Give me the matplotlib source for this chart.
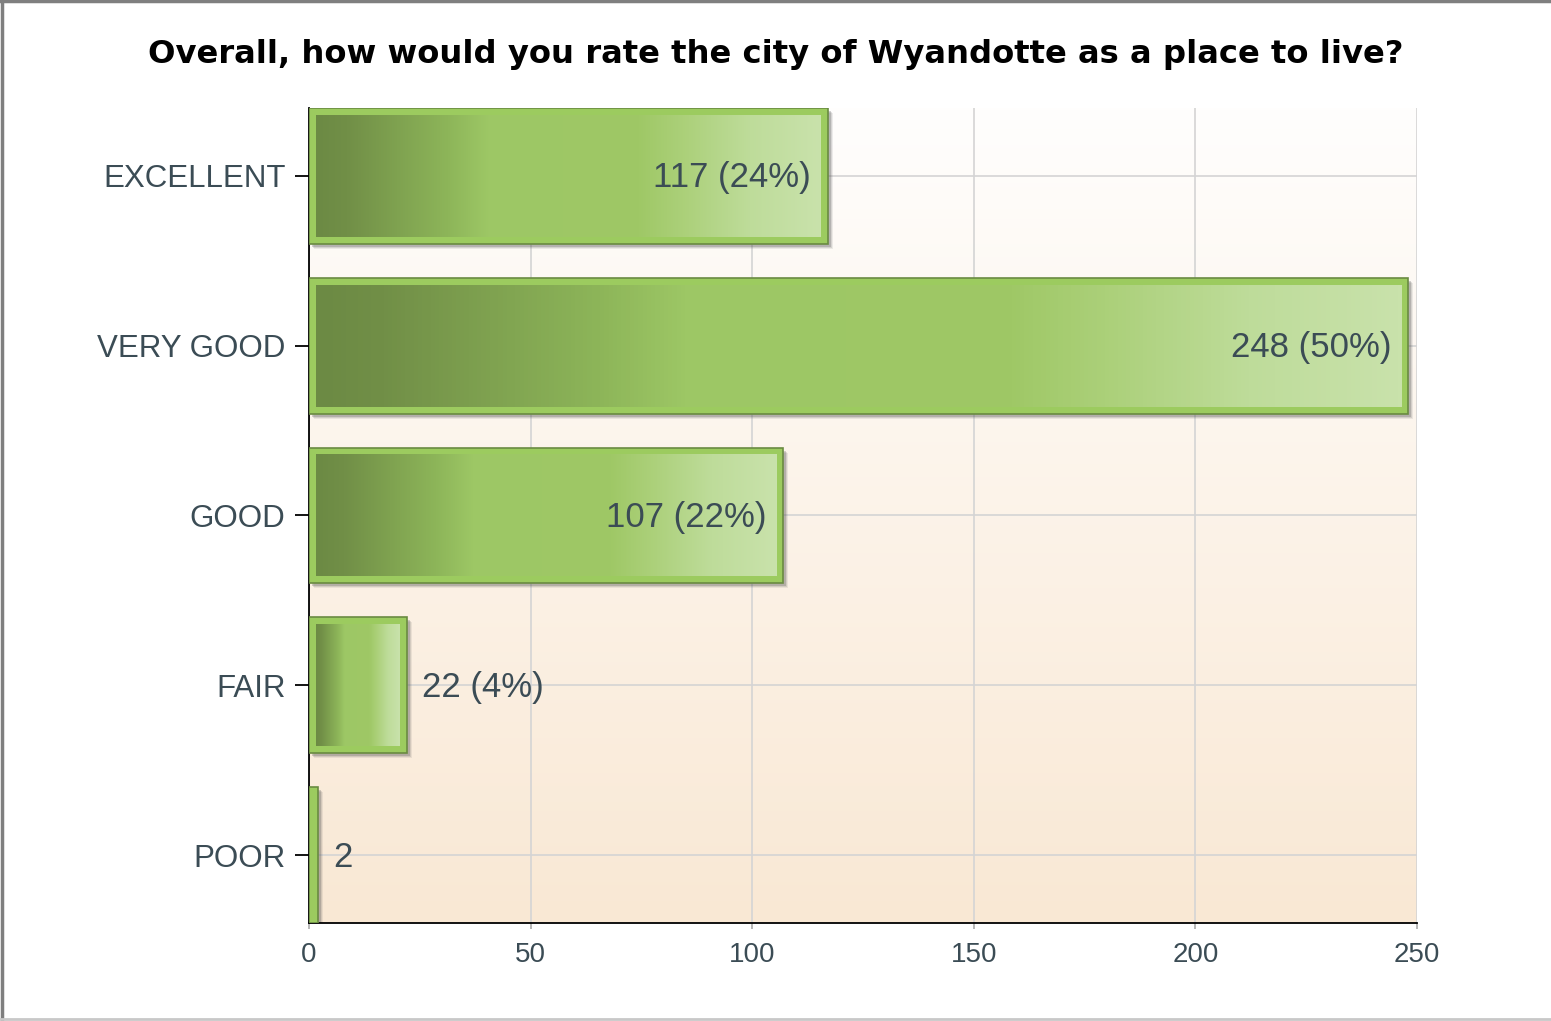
import matplotlib.pyplot as plt
import matplotlib.transforms as mtransforms
from matplotlib.colors import LinearSegmentedColormap
from matplotlib.patches import Rectangle
from matplotlib.lines import Line2D
import numpy as np

# survey answers
categories = ["EXCELLENT", "VERY GOOD", "GOOD", "FAIR", "POOR"]
counts = [117, 248, 107, 22, 2]
value_labels = ["117 (24%)", "248 (50%)", "107 (22%)", "22 (4%)", "2"]
x_ticks = [0, 50, 100, 150, 200, 250]

title = "Overall, how would you rate the city of Wyandotte as a place to live?"

plt.rcParams['font.family'] = ['Liberation Sans', 'DejaVu Sans']
text_col = "#3b4c55"

fig = plt.figure(figsize=(15.51, 10.21), dpi=100)
ax = fig.add_axes([309 / 1551, 98 / 1021, 1108 / 1551, 815 / 1021])

# peach gradient behind plot area
bg = LinearSegmentedColormap.from_list("bg", ["#f9e8d4", "#fffefd"])
ax.imshow(np.linspace(0, 1, 256).reshape(-1, 1)[::-1], cmap=bg, aspect="auto",
          extent=[0, 1, 0, 1], transform=ax.transAxes, zorder=0)

bar_cmap = LinearSegmentedColormap.from_list("bar", [
    (0.0, "#6c8a44"), (0.06, "#718f47"), (0.16, "#7fa250"), (0.26, "#8db559"),
    (0.34, "#9dc765"), (0.64, "#9fc866"), (0.74, "#add17c"), (0.86, "#bedc9a"),
    (1.0, "#c9e2ab")])

ypos = np.arange(len(categories))
bar_h = 0.8
px_x = 1108 / 250          # pixels per x unit
px_y = 815 / 4.8           # pixels per category unit
inset = 7

for i, (y, v) in enumerate(zip(ypos, counts)):
    # soft drop shadow
    for k, a in [(5, 0.10), (4, 0.15), (3, 0.25)]:
        tr = mtransforms.offset_copy(ax.transData, fig=fig, x=k, y=-k, units="dots")
        ax.add_patch(Rectangle((0, y - bar_h / 2), v, bar_h, transform=tr,
                               facecolor="#555555", edgecolor="none", alpha=a, zorder=2))
    ax.add_patch(Rectangle((0, y - bar_h / 2), v, bar_h, facecolor="#9ccb5f",
                           edgecolor="#6a8b42", linewidth=1.2, zorder=3))
    dx = inset / px_x
    dy = inset / px_y
    if v - 2 * dx > 1:
        ax.imshow(np.linspace(0, 1, 256).reshape(1, -1), cmap=bar_cmap, aspect="auto",
                  extent=[dx, v - dx, y + bar_h / 2 - dy, y - bar_h / 2 + dy], zorder=4)

    if v > 50:
        tr = mtransforms.offset_copy(ax.transData, fig=fig, x=-17, y=-2, units="dots")
        ax.text(v, y, value_labels[i], transform=tr, ha="right", va="center",
                fontsize=25, color=text_col, zorder=6)
    else:
        tr = mtransforms.offset_copy(ax.transData, fig=fig, x=15, y=-2, units="dots")
        ax.text(v, y, value_labels[i], transform=tr, ha="left", va="center",
                fontsize=25, color=text_col, zorder=6)

ax.set_xlim(0, 250)
ax.set_ylim(4.4, -0.4)
ax.set_xticks(x_ticks)
ax.set_yticks(ypos)
ax.set_yticklabels(categories)

ax.grid(True, color="#d4d4d4", linewidth=1.2, zorder=1)
ax.set_axisbelow(True)

for s in ["top", "right"]:
    ax.spines[s].set_visible(False)
ax.spines["left"].set_color("black")
ax.spines["bottom"].set_color("black")
ax.spines["left"].set_linewidth(1.3)
ax.spines["bottom"].set_linewidth(1.3)

ax.tick_params(axis="y", length=10, width=1.3, color="black", pad=7,
               labelsize=22.5, labelcolor=text_col)
ax.tick_params(axis="x", length=4, width=1.2, color="#aaaaaa", pad=10,
               labelsize=20, labelcolor=text_col)

fig.text(0.5, 1 - 54 / 1021, title, ha="center", va="center",
         fontsize=23.2, fontweight="bold", color="black", family="DejaVu Sans")

# outer frame of the screenshot
fig.add_artist(Line2D([0, 1], [0.999, 0.999], transform=fig.transFigure,
                      color="#7f7f7f", linewidth=2.5))
fig.add_artist(Line2D([0.001, 0.001], [0, 1], transform=fig.transFigure,
                      color="#7f7f7f", linewidth=2.5))
fig.add_artist(Line2D([0, 1], [0.0015, 0.0015], transform=fig.transFigure,
                      color="#c8c8c8", linewidth=2))

fig.savefig("out.png", dpi=100)
